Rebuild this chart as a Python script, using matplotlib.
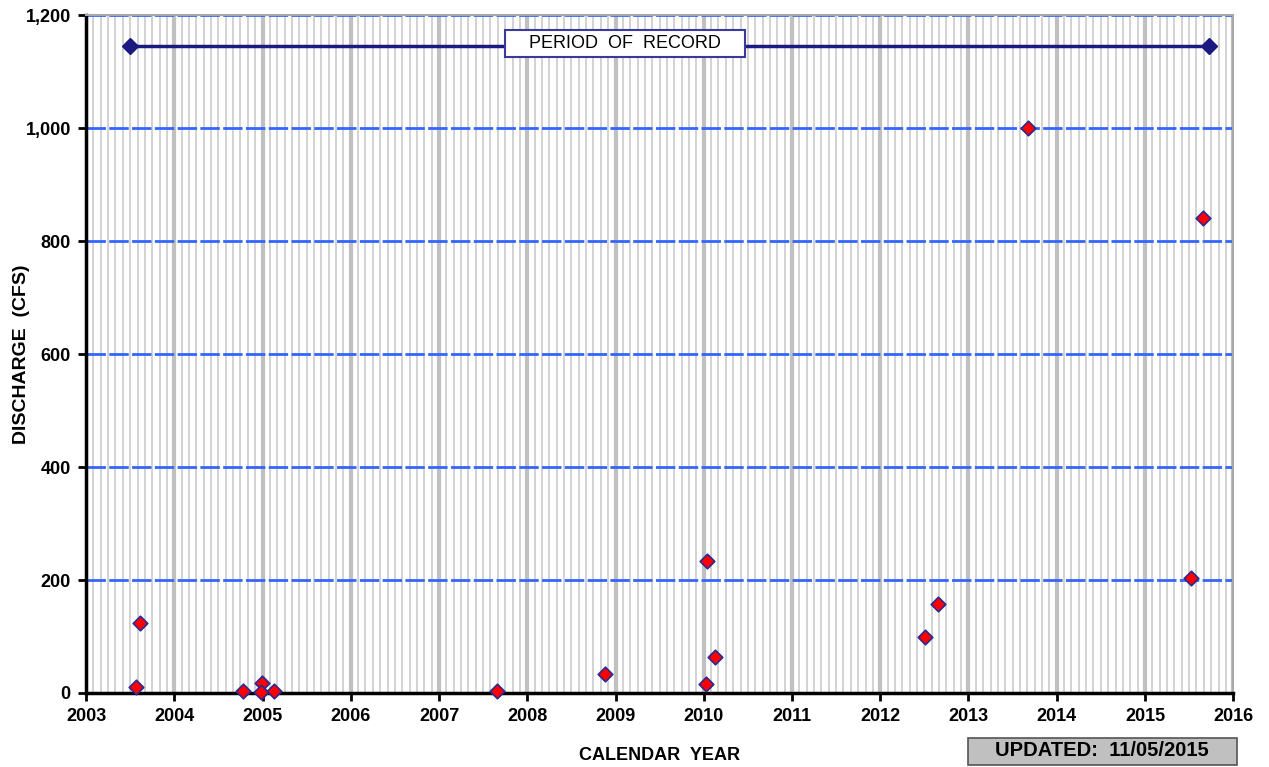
import numpy as np
import matplotlib.pyplot as plt
from matplotlib.patches import Rectangle
from matplotlib.ticker import FuncFormatter, MultipleLocator

plt.rcParams["font.family"] = ["Liberation Sans", "DejaVu Sans"]

# measurement dates (decimal year) and discharge (cfs)
years = [2003.57, 2003.61, 2004.78, 2004.995, 2004.98, 2005.13, 2007.66,
         2008.88, 2010.03, 2010.04, 2010.13, 2012.51, 2012.66, 2013.68,
         2015.52, 2015.66]
discharge = [11, 124, 4, 18, 1, 4, 4, 34, 16, 234, 64, 99, 158, 1000, 204, 841]

record_start = 2003.50
record_end = 2015.73
record_level = 1145

fig = plt.figure(figsize=(12.69, 7.67), dpi=100)
ax = fig.add_axes([0.0678, 0.0965, 0.9040, 0.8835])

ax.set_xlim(2003, 2016)
ax.set_ylim(0, 1200)

# monthly and yearly grid
for m in np.arange(2003, 2016 + 1e-9, 1 / 12):
    if abs(m - round(m)) < 1e-6:
        ax.axvline(m, color="#c0c0c0", lw=3, zorder=1)
    else:
        ax.axvline(m, color="#cfcfcf", lw=1.3, zorder=1)
for yv in range(200, 1201, 200):
    ax.axhline(yv, color="#3366ff", lw=2, dashes=(7, 1.2), zorder=2)

ax.plot([record_start, record_end], [record_level, record_level],
        color="#1a1a80", lw=2.5, marker="D", ms=8, zorder=3)
ax.add_patch(Rectangle((0.3653, 0.938), 0.2092, 0.040, transform=ax.transAxes,
                       fc="white", ec="#3a3a9a", lw=1.5, zorder=4))
ax.text(0.47, 0.958, "PERIOD  OF  RECORD", transform=ax.transAxes,
        ha="center", va="center", fontsize=13, zorder=5)

ax.scatter(years, discharge, marker="D", s=55, color="#ff0000",
           edgecolor="#2a2a90", linewidth=1.2, zorder=5, clip_on=False)

ax.xaxis.set_major_locator(MultipleLocator(1))
ax.yaxis.set_major_locator(MultipleLocator(200))
ax.yaxis.set_major_formatter(FuncFormatter(lambda v, p: f"{int(v):,}"))
ax.tick_params(direction="out", length=6, width=2, labelsize=13, pad=5)
for lab in ax.get_xticklabels() + ax.get_yticklabels():
    lab.set_fontweight("bold")

for s in ["top", "right"]:
    ax.spines[s].set_color("#a8a8a8")
    ax.spines[s].set_linewidth(1.5)
for s in ["left", "bottom"]:
    ax.spines[s].set_linewidth(2.5)

fig.text(0.017, 0.538, "DISCHARGE  (CFS)", rotation=90, ha="center",
         va="center", fontsize=14, fontweight="bold")
ax.set_xlabel("CALENDAR  YEAR", fontsize=13, fontweight="bold", labelpad=16)

fig.patches.append(Rectangle((0.7628, 0.0026), 0.212, 0.0352,
                             transform=fig.transFigure, fc="#c0c0c0",
                             ec="#555555", lw=1.2))
fig.text(0.8686, 0.021, "UPDATED:  11/05/2015", ha="center", va="center",
         fontsize=14.5, fontweight="bold")

fig.savefig("out.png", dpi=100)
